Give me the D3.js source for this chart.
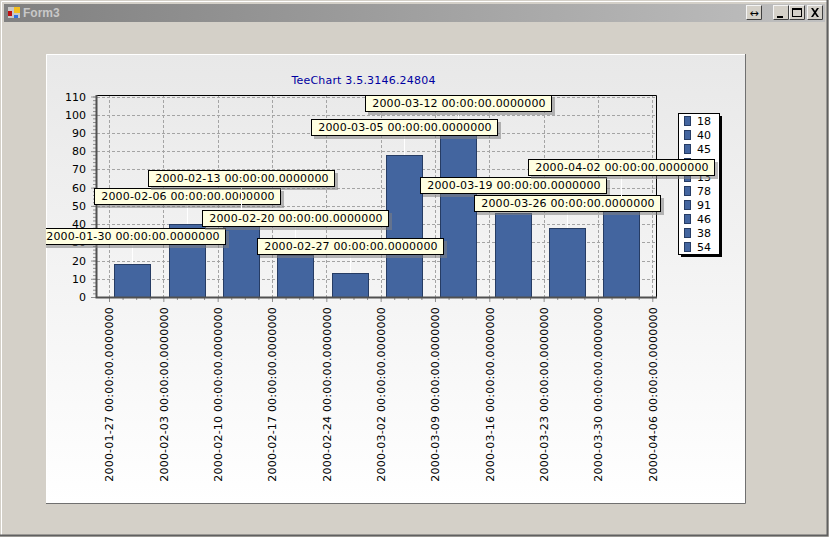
<!DOCTYPE html>
<html>
<head>
<meta charset="utf-8">
<script src="https://cdnjs.cloudflare.com/ajax/libs/d3/7.8.5/d3.min.js"></script>
<style>
html, body { margin: 0; padding: 0; background: #d4d0c8; overflow: hidden; }
text { font-family: "DejaVu Sans", Verdana, sans-serif; font-size: 11px; fill: #000; }
</style>
</head>
<body>
<svg id="form" width="829" height="537"></svg>
<script>
(function() {
    'use strict';

    var barDates = ['2000-01-30', '2000-02-06', '2000-02-13', '2000-02-20', '2000-02-27',
                    '2000-03-05', '2000-03-12', '2000-03-19', '2000-03-26', '2000-04-02'];
    var barValues = [18, 40, 45, 23, 13, 78, 91, 46, 38, 54];
    var tickDates = ['2000-01-27', '2000-02-03', '2000-02-10', '2000-02-17', '2000-02-24',
                     '2000-03-02', '2000-03-09', '2000-03-16', '2000-03-23', '2000-03-30', '2000-04-06'];
    var yTicks = d3.range(0, 111, 10);
    var yMinorTicks = d3.range(0, 111, 2);
    var timeSuffix = ' 00:00:00.0000000';
    // TeeChart moved the marks apart, so the gap over each bar differs
    var markRise = [20, 20, 29, 29, 19, 20, 20, 20, 17, 24];

    var plot = {left: 97, right: 656, top: 95, bottom: 297};
    var parse = d3.utcParse('%Y-%m-%d');

    var x = d3.scaleUtc()
        .domain([parse(tickDates[0]), parse(tickDates[10])])
        .range([109, 652.3]);
    var y = d3.scaleLinear().domain([0, 110]).range([plot.bottom, 96.5]);

    var svg = d3.select('#form');
    var defs = svg.append('defs');

    function gradient(id, horizontal, from, to) {
        var g = defs.append('linearGradient').attr('id', id)
            .attr('x2', horizontal ? 1 : 0).attr('y2', horizontal ? 0 : 1);
        g.append('stop').attr('offset', 0).attr('stop-color', from);
        g.append('stop').attr('offset', 1).attr('stop-color', to);
    }
    gradient('titleFill', true, '#808080', '#c0c0c0');
    gradient('panelFill', false, '#e8e8e8', '#ffffff');
    defs.append('clipPath').attr('id', 'panelClip').append('rect')
        .attr('x', 46).attr('y', 54).attr('width', 700).attr('height', 450);

    // window frame
    svg.append('rect').attr('width', 829).attr('height', 537).attr('fill', '#d4d0c8');
    svg.append('path').attr('d', 'M1.5,535V1.5H827').attr('fill', 'none').attr('stroke', '#ffffff');
    svg.append('path').attr('d', 'M0,535.5H827.5V0').attr('fill', 'none').attr('stroke', '#606060').attr('stroke-width', 2);
    svg.append('rect').attr('x', 4).attr('y', 4).attr('width', 821).attr('height', 18).attr('fill', 'url(#titleFill)');

    // form icon
    var icon = svg.append('g');
    icon.append('rect').attr('x', 7.5).attr('y', 6.5).attr('width', 13).attr('height', 12).attr('fill', '#c8c8c8').attr('stroke', '#808080');
    icon.append('rect').attr('x', 8).attr('y', 11).attr('width', 4).attr('height', 5).attr('fill', '#c01010');
    icon.append('rect').attr('x', 14).attr('y', 7).attr('width', 6).attr('height', 6).attr('fill', '#f4c020');
    icon.append('rect').attr('x', 14).attr('y', 15).attr('width', 4).attr('height', 3).attr('fill', '#3070e0');
    svg.append('text').attr('x', 23).attr('y', 17)
        .style('font-family', '"Liberation Sans", sans-serif').style('font-size', '12px')
        .style('font-weight', 'bold').style('fill', '#c8c8c8').text('Form3');

    // caption buttons
    var buttons = [
        {x: 746, w: 16, glyph: ''},
        {x: 773, w: 16, glyph: 'M4,11h6v2h-6z'},
        {x: 789, w: 16, glyph: 'M3,3h10v9h-10zM4,5v6h8v-6z'},
        {x: 807, w: 16, glyph: 'M4,3h2l2,3l2,-3h2l-3,4.5l3,4.5h-2l-2,-3l-2,3h-2l3,-4.5z'}
    ];
    var btn = svg.selectAll('.btn').data(buttons).enter().append('g').attr('class', 'btn')
        .attr('transform', function(d) { return 'translate(' + d.x + ',5)'; });
    btn.append('rect')
        .attr('x', 0.5).attr('y', 0.5)
        .attr('width', function(d) { return d.w - 1; }).attr('height', 14)
        .attr('fill', '#d4d0c8').attr('stroke', '#f4f4f4');
    btn.append('path')
        .attr('d', function(d) { return 'M0.5,14.5H' + (d.w - 0.5) + 'V0.5'; })
        .attr('fill', 'none').attr('stroke', '#404040');
    btn.append('path')
        .attr('d', function(d) { return d.glyph; })
        .attr('fill', '#000').attr('fill-rule', 'evenodd');
    svg.append('text').attr('x', 754).attr('y', 17).attr('text-anchor', 'middle')
        .style('font-size', '11px').text('↔');

    // chart panel
    svg.append('rect').attr('x', 46).attr('y', 54).attr('width', 699.5).attr('height', 449.5)
        .attr('fill', 'url(#panelFill)');
    svg.append('path').attr('d', 'M46.5,503V54.5H745').attr('fill', 'none').attr('stroke', '#ffffff');
    svg.append('path').attr('d', 'M745.5,54V503.5H46').attr('fill', 'none').attr('stroke', '#707070');

    svg.append('text').attr('x', 363.5).attr('y', 84).attr('text-anchor', 'middle')
        .style('fill', '#0000a0').style('letter-spacing', '0.2px').text('TeeChart 3.5.3146.24804');

    // grid
    var grid = svg.append('g').attr('stroke', '#a4a4a4').attr('stroke-dasharray', '3,2').attr('fill', 'none');
    grid.selectAll('.gy').data(yTicks.slice(1)).enter().append('line')
        .attr('x1', plot.left).attr('x2', plot.right)
        .attr('y1', function(d) { return Math.round(y(d)) + 0.5; })
        .attr('y2', function(d) { return Math.round(y(d)) + 0.5; });
    grid.selectAll('.gx').data(tickDates).enter().append('line')
        .attr('y1', plot.top).attr('y2', plot.bottom)
        .attr('x1', function(d) { return Math.round(x(parse(d))) + 0.5; })
        .attr('x2', function(d) { return Math.round(x(parse(d))) + 0.5; });

    // bars
    var barWidth = 36;
    svg.selectAll('.bar').data(barValues).enter().append('rect')
        .attr('class', 'bar')
        .attr('x', function(d, i) { return Math.round(x(parse(barDates[i])) - barWidth / 2) + 0.5; })
        .attr('y', function(d) { return Math.round(y(d)) + 0.5; })
        .attr('width', barWidth)
        .attr('height', function(d) { return plot.bottom - Math.round(y(d)); })
        .attr('fill', '#43659f').attr('stroke', '#263c64');

    // axes
    var minorDates = [];
    tickDates.slice(0, -1).forEach(function(d) {
        [1.75, 3.5, 5.25].forEach(function(k) {
            minorDates.push(new Date(+parse(d) + k * 864e5));
        });
    });

    var yAxis = svg.append('g').attr('transform', 'translate(' + (plot.left - 1) + ',0)')
        .call(d3.axisLeft(y).tickValues(yTicks).tickSize(5).tickPadding(5));
    var yMinor = svg.append('g').attr('transform', 'translate(' + (plot.left - 1) + ',0)')
        .call(d3.axisLeft(y).tickValues(yMinorTicks).tickSize(3).tickFormat(''));
    var xAxis = svg.append('g').attr('transform', 'translate(0,' + (plot.bottom + 1) + ')')
        .call(d3.axisBottom(x).tickValues(tickDates.map(parse)).tickSize(4)
            .tickFormat(function(d) { return d3.utcFormat('%Y-%m-%d')(d) + timeSuffix; }));
    var xMinor = svg.append('g').attr('transform', 'translate(0,' + (plot.bottom + 1) + ')')
        .call(d3.axisBottom(x).tickValues(minorDates).tickSize(2).tickFormat(''));

    [yAxis, yMinor, xAxis, xMinor].forEach(function(a) {
        a.select('.domain').remove();
        a.selectAll('line').attr('stroke', '#909090');
    });
    yAxis.attr('font-family', null).attr('font-size', null);
    xAxis.attr('font-family', null).attr('font-size', null);
    xAxis.selectAll('text')
        .attr('transform', 'rotate(-90)')
        .attr('text-anchor', 'end')
        .attr('x', -9).attr('y', 0).attr('dy', '0.35em')
        .style('letter-spacing', '0.2px');

    // plot frame
    svg.append('path').attr('d', 'M' + plot.left + ',' + (plot.top + 0.5) + 'H656.5V' + plot.bottom)
        .attr('fill', 'none').attr('stroke', '#000');
    svg.append('path').attr('d', 'M96.5,95V297.5H657').attr('fill', 'none').attr('stroke', '#505050').attr('stroke-width', 2);

    // legend
    var legend = svg.append('g');
    var legendRow = d3.scaleLinear().domain([0, 9]).range([121, 247]);
    legend.append('rect').attr('x', 681).attr('y', 116).attr('width', 41).attr('height', 141).attr('fill', '#000');
    legend.append('rect').attr('x', 678.5).attr('y', 113.5).attr('width', 41).attr('height', 141)
        .attr('fill', '#fff').attr('stroke', '#000');
    legend.selectAll('.sym').data(barValues).enter().append('rect')
        .attr('x', 684.5).attr('width', 6).attr('height', 9)
        .attr('y', function(d, i) { return Math.round(legendRow(i)) - 4.5; })
        .attr('fill', '#43659f').attr('stroke', '#263c64');
    legend.selectAll('.lbl').data(barValues).enter().append('text')
        .attr('x', 697).attr('dy', '0.35em')
        .attr('y', function(d, i) { return legendRow(i); })
        .text(function(d) { return d; });

    // marks, later ones cover earlier ones
    var mark = {w: 186, h: 16};
    var marks = svg.append('g').attr('clip-path', 'url(#panelClip)')
        .selectAll('.mark').data(barDates).enter().append('g').attr('class', 'mark');
    function markX(d) { return Math.round(x(parse(d))); }
    function markBottom(d, i) { return Math.round(y(barValues[i])) - markRise[i]; }

    marks.append('line')
        .attr('x1', function(d) { return markX(d) + 0.5; })
        .attr('x2', function(d) { return markX(d) + 0.5; })
        .attr('y1', function(d, i) { return Math.round(y(barValues[i])); })
        .attr('y2', markBottom)
        .attr('stroke', '#ffffff');
    marks.append('rect')
        .attr('x', function(d) { return markX(d) - mark.w / 2 + 3; })
        .attr('y', function(d, i) { return markBottom(d, i) - mark.h + 3; })
        .attr('width', mark.w + 1).attr('height', mark.h + 1)
        .attr('fill', '#808080').attr('fill-opacity', 0.55);
    marks.append('rect')
        .attr('x', function(d) { return markX(d) - mark.w / 2 + 0.5; })
        .attr('y', function(d, i) { return markBottom(d, i) - mark.h + 0.5; })
        .attr('width', mark.w).attr('height', mark.h)
        .attr('fill', '#ffffe1').attr('stroke', '#000');
    marks.append('text')
        .attr('x', function(d) { return markX(d) + 1; })
        .attr('y', function(d, i) { return markBottom(d, i) - mark.h / 2; })
        .attr('dy', '0.37em').attr('text-anchor', 'middle')
        .style('letter-spacing', '0.15px')
        .text(function(d) { return d + timeSuffix; });

    // the 03-05 box sits on top of the 03-12 connector
    marks.filter(function(d) { return d === '2000-03-05'; }).each(function() {
        var next = this.nextSibling;
        this.parentNode.insertBefore(next, this);
    });
}());
</script>
</body>
</html>
